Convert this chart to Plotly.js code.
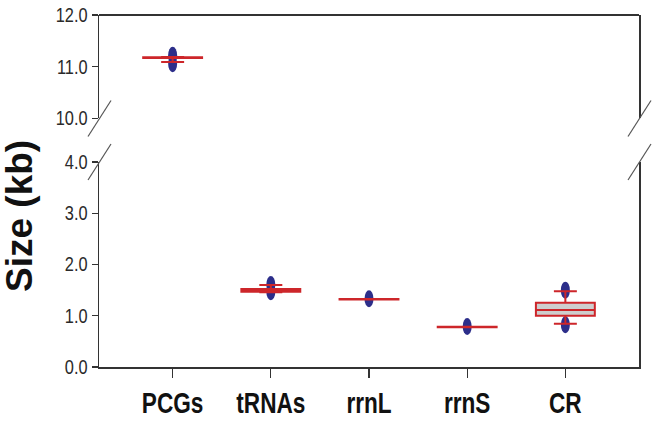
<!DOCTYPE html>
<html>
<head>
<meta charset="utf-8">
<script src="https://cdn.plot.ly/plotly-3.0.1.min.js"></script>
<style>
html,body{margin:0;padding:0;background:#fff;}
#chart{width:658px;height:426px;}
</style>
</head>
<body>
<div id="chart"></div>
<script>
// ---- data ----
const categories = ['PCGs', 'tRNAs', 'rrnL', 'rrnS', 'CR'];
const q1Values     = [11.170, 1.47, 1.315, 0.775, 1.000];
const medianValues = [11.175, 1.49, 1.320, 0.780, 1.110];
const q3Values     = [11.185, 1.52, 1.325, 0.785, 1.255];
const lowerCaps    = [11.090, 1.46, 1.315, 0.775, 0.845];
const upperCaps    = [11.190, 1.60, 1.325, 0.785, 1.480];
const outlierValues = [
  [11.22, 11.06],
  [1.61, 1.47],
  [1.33],
  [0.79],
  [1.50, 0.825]
];
const yTicksLow = [0, 1, 2, 3, 4];
const yTicksHigh = [10, 11, 12];

// ---- styling ----
const RED = 'rgb(205,38,42)';
const GREY = 'rgb(206,206,206)';
const BLUE = 'rgb(44,46,138)';
const AXIS = '#333333';
const SANS = '"Liberation Sans", Arial, sans-serif';

const topIdx = [0];           // PCGs lives on the upper (broken) axis
const lowIdx = [1, 2, 3, 4];

function boxTrace(idx, yaxis) {
  return {
    type: 'box',
    x: idx.map(i => categories[i]),
    q1: idx.map(i => q1Values[i]),
    median: idx.map(i => medianValues[i]),
    q3: idx.map(i => q3Values[i]),
    lowerfence: idx.map(i => lowerCaps[i]),
    upperfence: idx.map(i => upperCaps[i]),
    xaxis: 'x',
    yaxis: yaxis,
    width: 0.6,
    whiskerwidth: 0.39,
    boxpoints: false,
    line: {color: RED, width: 2},
    fillcolor: GREY,
    hoverinfo: 'skip',
    showlegend: false
  };
}

const traces = [boxTrace(lowIdx, 'y'), boxTrace(topIdx, 'y2')];

const shapes = [];
// outlier symbols (elliptical dots), anchored at data values
categories.forEach((c, i) => {
  outlierValues[i].forEach(v => {
    shapes.push({
      type: 'circle', layer: 'below',
      xref: 'x', yref: topIdx.includes(i) ? 'y2' : 'y',
      xsizemode: 'pixel', ysizemode: 'pixel',
      xanchor: c, yanchor: v,
      x0: -4.5, x1: 4.5, y0: -8.5, y1: 8.5,
      fillcolor: BLUE, line: {width: 0}
    });
  });
});

const lowDomain = [0, 0.5824];
const highDomain = [0.706, 1];

// top frame line
shapes.push({type: 'line', xref: 'paper', yref: 'paper', x0: 0, x1: 1, y0: 1, y1: 1,
  line: {color: AXIS, width: 2}});
// break marks on both spines
[0, 1].forEach(px => {
  [highDomain[0], lowDomain[1]].forEach(py => {
    shapes.push({
      type: 'line', xref: 'paper', yref: 'paper',
      xsizemode: 'pixel', ysizemode: 'pixel',
      xanchor: px, yanchor: py,
      x0: -11, x1: 12, y0: -18, y1: 18,
      line: {color: '#555555', width: 1.2}
    });
  });
});

const yCommon = {
  showline: true, linecolor: AXIS, linewidth: 1.5, mirror: true,
  ticks: 'outside', ticklen: 6, tickwidth: 1.2, tickcolor: AXIS,
  showgrid: false, zeroline: false, tickformat: '.1f',
  tickfont: {family: SANS, size: 19.5, color: '#2a2a2a'},
  fixedrange: true
};

const layout = {
  width: 658, height: 426,
  margin: {l: 99, r: 19, t: 15, b: 59, pad: 0},
  paper_bgcolor: '#ffffff', plot_bgcolor: '#ffffff',
  showlegend: false,
  xaxis: {
    type: 'category', categoryarray: categories, categoryorder: 'array',
    range: [-0.75, 4.75],
    showline: true, linecolor: AXIS, linewidth: 2,
    ticks: 'outside', ticklen: 9, tickwidth: 1.2, tickcolor: AXIS,
    showgrid: false, zeroline: false,
    tickfont: {family: SANS, size: 29, color: '#111', weight: 'bold'},
    anchor: 'y', fixedrange: true
  },
  yaxis: Object.assign({}, yCommon, {domain: lowDomain, range: [0, 4], tickvals: yTicksLow, anchor: 'x'}),
  yaxis2: Object.assign({}, yCommon, {domain: highDomain, range: [10, 12], tickvals: yTicksHigh, anchor: 'x'}),
  shapes: shapes,
  annotations: [{
    text: 'Size (kb)', textangle: -90,
    xref: 'paper', yref: 'paper', x: 0, y: 0.429,
    xanchor: 'center', yanchor: 'middle', xshift: -79,
    showarrow: false,
    font: {family: SANS, size: 37, color: '#111', weight: 'bold'}
  }]
};

// narrow the tick-label face (the reference uses an Arial-Narrow-like font)
function narrow(selector, factor, anchor) {
  document.querySelectorAll(selector).forEach(t => {
    const bb = t.getBBox();
    const cx = anchor === 'end' ? bb.x + bb.width : bb.x + bb.width / 2;
    const prev = t.getAttribute('transform') || '';
    t.setAttribute('transform', prev + ' translate(' + cx + ',0) scale(' + factor + ',1) translate(' + (-cx) + ',0)');
  });
}

Plotly.newPlot('chart', traces, layout, {displayModeBar: false, staticPlot: true}).then(() => {
  narrow('#chart .xtick text', 0.78, 'middle');
  narrow('#chart .ytick text', 0.84, 'end');
  narrow('#chart .y2tick text', 0.84, 'end');
});
</script>
</body>
</html>
